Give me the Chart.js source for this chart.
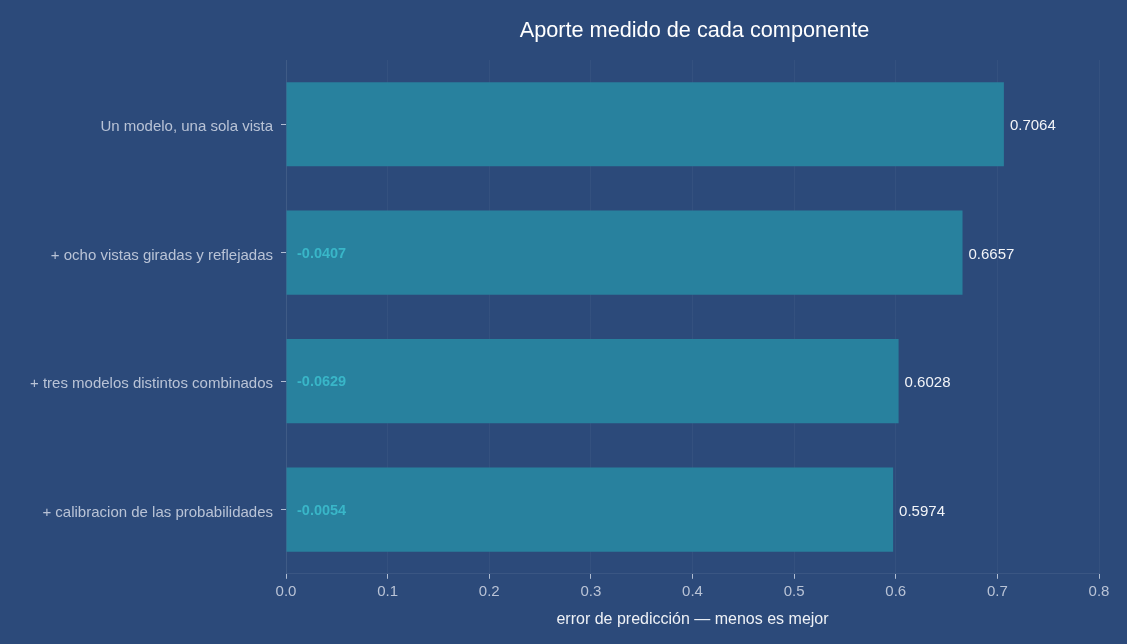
<!DOCTYPE html>
<html><head><meta charset="utf-8">
<script src="https://cdn.jsdelivr.net/npm/chart.js@4"></script>
<style>
html,body{margin:0;padding:0;background:#2c4a7a;}
#wrap{width:1127px;height:644px;position:relative;}
</style></head>
<body><div id="wrap"><canvas id="c" width="1127" height="644"></canvas></div>
<script>
const categories = ["Un modelo, una sola vista", "+ ocho vistas giradas y reflejadas", "+ tres modelos distintos combinados", "+ calibracion de las probabilidades"];
const errors = [0.7064, 0.6657, 0.6028, 0.5974];
const deltas = [null, -0.0407, -0.0629, -0.0054];
const xTicks = [0, 0.1, 0.2, 0.3, 0.4, 0.5, 0.6, 0.7, 0.8];
const chartTitle = 'Aporte medido de cada componente';

const FONT = "'Liberation Sans', Arial, sans-serif";

const labelPlugin = {
  id: 'labels',
  afterDatasetsDraw(chart) {
    const ctx = chart.ctx;
    const meta = chart.getDatasetMeta(0);
    const xs = chart.scales.x;
    const ca = chart.chartArea;
    ctx.save();
    ctx.textBaseline = 'middle';
    ctx.font = "21.7px " + FONT;
    ctx.fillStyle = '#ffffff';
    ctx.textAlign = 'center';
    ctx.fillText(chartTitle, (ca.left + ca.right) / 2 + 2, 31);
    meta.data.forEach((bar, i) => {
      ctx.font = "15px " + FONT;
      ctx.fillStyle = '#f2f4f8';
      ctx.textAlign = 'left';
      ctx.fillText(errors[i].toFixed(4), bar.x + 6, bar.y + 2);
      if (deltas[i] !== null) {
        ctx.font = "bold 14.5px " + FONT;
        ctx.fillStyle = '#39b6c8';
        ctx.fillText(deltas[i].toFixed(4), xs.getPixelForValue(0) + 11, bar.y + 1);
      }
    });
    ctx.restore();
  }
};

new Chart(document.getElementById('c'), {
  type: 'bar',
  data: {
    labels: categories,
    datasets: [{
      data: errors,
      backgroundColor: '#28819e',
      borderWidth: 0,
      categoryPercentage: 1,
      barPercentage: 0.655
    }]
  },
  options: {
    indexAxis: 'y',
    responsive: false,
    animation: false,
    devicePixelRatio: 1,
    layout: { padding: { left: 0, right: 28, top: 60, bottom: 15 } },
    plugins: {
      legend: { display: false },
      tooltip: { enabled: false },
      title: { display: false }
    },
    scales: {
      x: {
        min: 0, max: 0.8,
        afterBuildTicks(s) { s.ticks = xTicks.map(v => ({ value: v })); },
        ticks: {
          color: '#b9c3d6',
          font: { family: FONT, size: 15 },
          padding: 4,
          callback: (v) => Number(v).toFixed(1)
        },
        grid: {
          color: 'rgba(255,255,255,0.04)',
          tickColor: 'rgba(220,228,240,0.75)',
          tickLength: 5,
          drawTicks: true
        },
        border: { color: 'rgba(255,255,255,0.07)' },
        title: {
          display: true,
          text: 'error de predicción — menos es mejor',
          color: '#eef1f6',
          font: { family: FONT, size: 16 },
          padding: { top: 5, bottom: 0 }
        }
      },
      y: {
        afterFit(s) { s.width = 286; },
        ticks: {
          color: '#b9c3d6',
          font: { family: FONT, size: 15 },
          padding: 8,
          labelOffset: 3
        },
        grid: {
          display: true,
          offset: false,
          drawOnChartArea: false,
          tickColor: 'rgba(220,228,240,0.75)',
          tickLength: 5
        },
        border: { color: 'rgba(255,255,255,0.06)' }
      }
    }
  },
  plugins: [labelPlugin]
});
</script>
</body></html>
